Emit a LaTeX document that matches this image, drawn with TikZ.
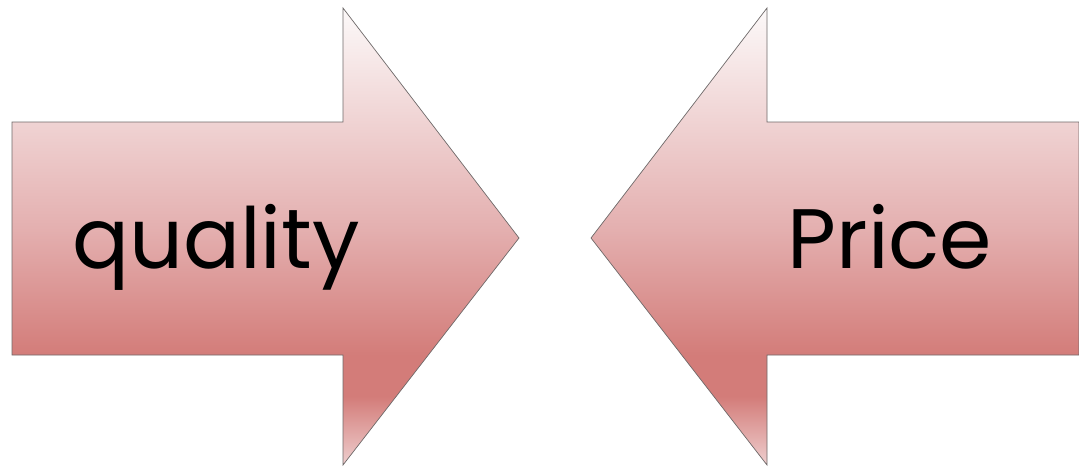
\documentclass[tikz,border=0pt]{standalone}
\usepackage{fontspec}
\setmainfont{Poppins}
\usepackage{tikz}
\usetikzlibrary{positioning}
\definecolor{ArrowTop}{RGB}{252,249,249}
\definecolor{ArrowMid}{RGB}{228,176,176}
\definecolor{ArrowDark}{RGB}{211,124,121}
\definecolor{ArrowBottom}{RGB}{238,206,206}
\definecolor{EdgeGray}{RGB}{110,105,105}
\pgfdeclareverticalshading{arrowshade}{100bp}{
  color(0bp)=(ArrowBottom);
  color(25bp)=(ArrowBottom);
  color(32.5bp)=(ArrowDark);
  color(37bp)=(ArrowDark);
  color(51bp)=(ArrowMid);
  color(75bp)=(ArrowTop);
  color(100bp)=(ArrowTop)
}
\tikzset{
  bigarrow/.style={
    draw=EdgeGray,
    line width=0.5pt,
    shading=arrowshade
  },
  arrowlabel/.style={
    font=\fontsize{60}{64}\selectfont,
    text=black,
    inner sep=0pt,
    anchor=base
  }
}

\begin{document}
\begin{tikzpicture}[x=0.025cm, y=-0.025cm]
  \useasboundingbox (0,0) rectangle (1079,468);
  % left arrow
  \path[bigarrow] (12,122) -- (343,122) -- (343,8) -- (519,238)
    -- (343,465) -- (343,355) -- (12,355) -- cycle;
  % right arrow
  \path[bigarrow] (1079,122) -- (767,122) -- (767,8) -- (591,238)
    -- (767,465) -- (767,355) -- (1079,355) -- cycle;
  \node[arrowlabel] (quality) at (216,268) {quality};
  \node[arrowlabel] (price) at (890,268) {Price};
\end{tikzpicture}
\end{document}
